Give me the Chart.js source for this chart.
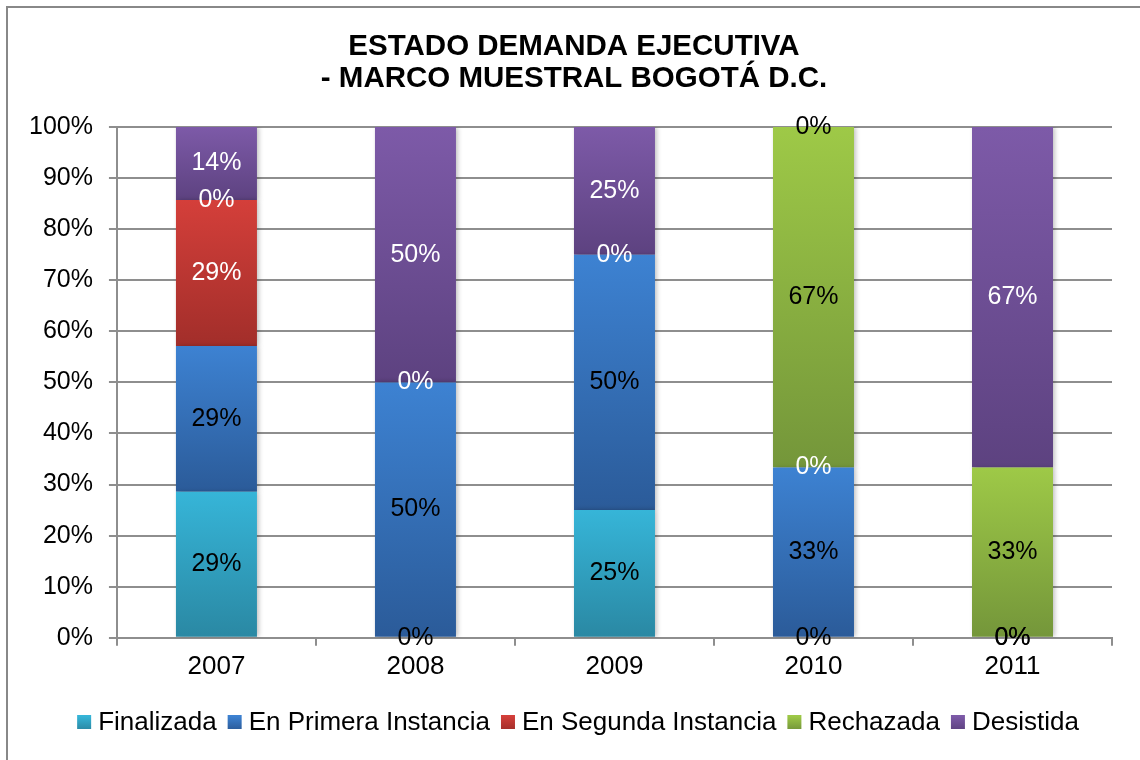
<!DOCTYPE html>
<html>
<head>
<meta charset="utf-8">
<script src="https://cdn.jsdelivr.net/npm/chart.js@4"></script>
<style>
  html, body { margin: 0; padding: 0; background: #fff; }
  #wrap { width: 1140px; height: 760px; }
</style>
</head>
<body>
<div id="wrap"><canvas id="myChart" width="1140" height="760"></canvas></div>
<script>
const categories = ['2007', '2008', '2009', '2010', '2011'];
const finalizada = [28.57, 0, 25, 0, 0];
const primeraInstancia = [28.57, 50, 50, 33.33, 0];
const segundaInstancia = [28.57, 0, 0, 0, null];
const rechazada = [0, null, null, 66.67, 33.33];
const desistida = [14.29, 50, 25, 0, 66.67];
const seriesNames = ['Finalizada', 'En Primera Instancia', 'En Segunda Instancia', 'Rechazada', 'Desistida'];
const titleLines = ['ESTADO DEMANDA EJECUTIVA', '- MARCO MUESTRAL BOGOTÁ D.C.'];
const yTicks = [0, 10, 20, 30, 40, 50, 60, 70, 80, 90, 100];

const allSeries = [finalizada, primeraInstancia, segundaInstancia, rechazada, desistida];
const palette = [
  { top: '#36b5d8', bottom: '#2a88a3' },
  { top: '#3d82d2', bottom: '#2b5b99' },
  { top: '#d43f3a', bottom: '#a22e2a' },
  { top: '#9ec947', bottom: '#74963a' },
  { top: '#7d5aa8', bottom: '#5d4280' }
];
const FONT = '"Liberation Sans", Arial, sans-serif';

function vGradient(ctx, i, y0, y1) {
  const g = ctx.createLinearGradient(0, y0, 0, y1);
  g.addColorStop(0, palette[i].top);
  g.addColorStop(1, palette[i].bottom);
  return g;
}

function gradientFill(i) {
  return function (c) {
    const chart = c.chart;
    const yScale = chart.scales.y;
    if (c.type !== 'data' || !yScale || !chart.chartArea) return palette[i].top;
    let start = 0;
    for (let k = 0; k < i; k++) start += allSeries[k][c.dataIndex] || 0;
    const end = start + (allSeries[i][c.dataIndex] || 0);
    const y0 = yScale.getPixelForValue(end);
    const y1 = yScale.getPixelForValue(start);
    if (y1 - y0 < 1) return palette[i].top;
    return vGradient(chart.ctx, i, y0, y1);
  };
}

// zero labels sit on a boundary, so their colour follows the bar next to them
function labelColor(i, v) {
  if (i === 2) return '#fff';
  if (i === 3) return v === 0 ? '#fff' : '#000';
  if (i === 4) return v === 0 ? '#000' : '#fff';
  return '#000';
}

const frame = {
  id: 'frame',
  beforeDraw(chart) {
    const ctx = chart.ctx;
    ctx.save();
    ctx.fillStyle = '#fff';
    ctx.fillRect(0, 0, chart.width, chart.height);
    ctx.strokeStyle = '#888';
    ctx.lineWidth = 2;
    ctx.strokeRect(7, 7, 2000, 2000);
    ctx.restore();
  }
};

const barLabels = {
  id: 'barLabels',
  beforeDatasetsDraw(chart) {
    const ctx = chart.ctx;
    ctx.save();
    ctx.shadowColor = 'rgba(0,0,0,0.28)';
    ctx.shadowBlur = 5;
    ctx.shadowOffsetX = 2;
    ctx.shadowOffsetY = 0;
  },
  afterDatasetsDraw(chart) {
    const ctx = chart.ctx;
    ctx.restore();
    ctx.save();
    ctx.font = '25px ' + FONT;
    ctx.textAlign = 'center';
    ctx.textBaseline = 'middle';
    chart.data.datasets.forEach((ds, i) => {
      const meta = chart.getDatasetMeta(i);
      meta.data.forEach((el, j) => {
        const v = ds.data[j];
        if (v === null || v === undefined) return;
        ctx.fillStyle = labelColor(i, v);
        ctx.fillText(Math.round(v) + '%', el.x, (el.y + el.base) / 2);
      });
    });
    ctx.restore();
  }
};

// title and legend drawn by hand so they sit where Excel put them
const titleAndLegend = {
  id: 'titleAndLegend',
  afterDraw(chart) {
    const ctx = chart.ctx;
    ctx.save();
    ctx.fillStyle = '#000';
    ctx.textAlign = 'center';
    ctx.textBaseline = 'middle';
    ctx.font = 'bold 29.5px ' + FONT;
    titleLines.forEach((t, i) => ctx.fillText(t, 574, 47 + i * 32));

    const box = 14, gap = 7, spacing = 11, cy = 723;
    ctx.font = '26px ' + FONT;
    ctx.textAlign = 'left';
    const widths = seriesNames.map(s => ctx.measureText(s).width);
    const total = widths.reduce((a, w) => a + box + gap + w, 0) + spacing * (seriesNames.length - 1);
    let x = 578 - total / 2;
    seriesNames.forEach((s, i) => {
      ctx.fillStyle = vGradient(ctx, i, cy - box / 2, cy + box / 2);
      ctx.fillRect(x, cy - box / 2 - 1, box, box);
      x += box + gap;
      ctx.fillStyle = '#000';
      ctx.fillText(s, x, cy);
      x += widths[i] + spacing;
    });
    ctx.restore();
  }
};

const ctx = document.getElementById('myChart');

new Chart(ctx, {
  type: 'bar',
  data: {
    labels: categories,
    datasets: allSeries.map((d, i) => ({
      label: seriesNames[i],
      data: d,
      backgroundColor: gradientFill(i),
      borderWidth: 0,
      barPercentage: 0.407,
      categoryPercentage: 1
    }))
  },
  plugins: [frame, barLabels, titleAndLegend],
  options: {
    responsive: false,
    animation: false,
    layout: {
      padding: { left: 13, right: 28, top: 127, bottom: 73 }
    },
    plugins: {
      title: { display: false },
      legend: { display: false },
      tooltip: { enabled: false }
    },
    scales: {
      x: {
        stacked: true,
        grid: {
          display: true,
          drawOnChartArea: false,
          drawTicks: true,
          tickLength: 8,
          color: '#8e8e8e',
          lineWidth: 2
        },
        border: { display: true, color: '#8e8e8e', width: 2 },
        ticks: {
          color: '#000',
          padding: 5,
          font: { family: FONT, size: 26 }
        }
      },
      y: {
        stacked: true,
        min: 0,
        max: 100,
        afterBuildTicks(scale) { scale.ticks = yTicks.map(v => ({ value: v })); },
        grid: {
          color: '#8e8e8e',
          lineWidth: 2,
          tickLength: 8
        },
        border: { display: true, color: '#8e8e8e', width: 2 },
        ticks: {
          color: '#000',
          padding: 16,
          font: { family: FONT, size: 25 },
          callback: v => v + '%'
        }
      }
    }
  }
});
</script>
</body>
</html>
